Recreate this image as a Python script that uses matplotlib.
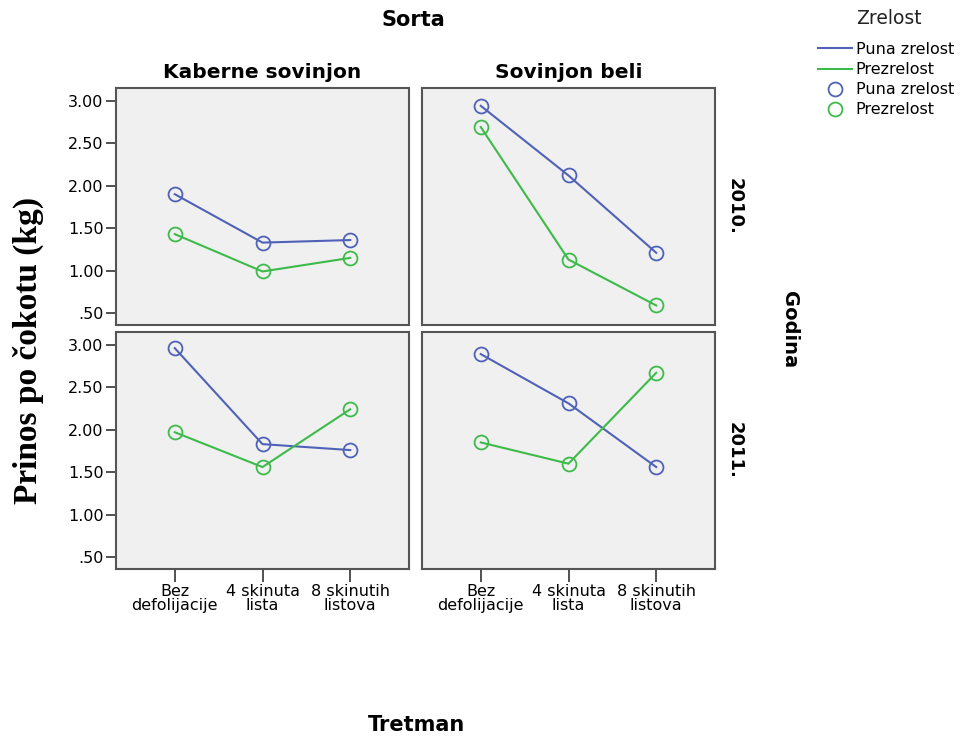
import numpy as np
import matplotlib.pyplot as plt
from matplotlib.lines import Line2D

treatments = ["Bez\ndefolijacije", "4 skinuta\nlista", "8 skinutih\nlistova"]
varieties = ["Kaberne sovinjon", "Sovinjon beli"]
years = ["2010.", "2011."]
y_ticks = [0.5, 1.0, 1.5, 2.0, 2.5, 3.0]
y_tick_labels = [".50", "1.00", "1.50", "2.00", "2.50", "3.00"]

# Puna zrelost / Prezrelost, per (year, variety)
puna = {
    ("2010.", "Kaberne sovinjon"): [1.90, 1.33, 1.36],
    ("2010.", "Sovinjon beli"): [2.94, 2.12, 1.21],
    ("2011.", "Kaberne sovinjon"): [2.96, 1.83, 1.76],
    ("2011.", "Sovinjon beli"): [2.89, 2.31, 1.56],
}
prezrelost = {
    ("2010.", "Kaberne sovinjon"): [1.43, 0.99, 1.15],
    ("2010.", "Sovinjon beli"): [2.69, 1.13, 0.59],
    ("2011.", "Kaberne sovinjon"): [1.97, 1.56, 2.24],
    ("2011.", "Sovinjon beli"): [1.85, 1.60, 2.67],
}

blue = "#4f62b8"
green = "#3dbb4a"
sans = "DejaVu Sans"

fig = plt.figure(figsize=(9.63, 7.38), dpi=100)

lefts = [116 / 963, 422 / 963]
bottoms = [1 - 325 / 738, 1 - 569 / 738]
w = 293 / 963
h = 237 / 738
x = np.arange(len(treatments))

for r, year in enumerate(years):
    for c, variety in enumerate(varieties):
        ax = fig.add_axes([lefts[c], bottoms[r], w, h])
        ax.set_facecolor("#f0f0f0")
        for s in ax.spines.values():
            s.set_color("#555555")
            s.set_linewidth(1.5)
        ax.plot(x, puna[(year, variety)], color=blue, lw=1.5, marker="o",
                ms=10, mfc="none", mec=blue, mew=1.3)
        ax.plot(x, prezrelost[(year, variety)], color=green, lw=1.5, marker="o",
                ms=10, mfc="none", mec=green, mew=1.3)
        ax.set_xlim(-0.67, 2.67)
        ax.set_ylim(0.36, 3.15)
        ax.set_yticks(y_ticks)
        if c == 0:
            ax.set_yticklabels(y_tick_labels, fontsize=11.5, family=sans)
            ax.tick_params(axis="y", length=7, width=1.2, color="#333333", pad=2)
        else:
            ax.tick_params(axis="y", left=False, labelleft=False)
        ax.set_xticks(x)
        if r == 1:
            ax.set_xticklabels(treatments, fontsize=11.5, family=sans, linespacing=0.9)
            ax.tick_params(axis="x", length=9, width=1.2, color="#333333", pad=2)
        else:
            ax.tick_params(axis="x", bottom=False, labelbottom=False)
        if r == 0:
            ax.set_title(variety, fontsize=14.5, fontweight="bold", family=sans, pad=7)
        if c == 1:
            ax.text(1.035, 0.5, year, transform=ax.transAxes, rotation=-90,
                    ha="left", va="center", fontsize=13, fontweight="bold", family=sans)

fig.text(413 / 963, 1 - 20 / 738, "Sorta", ha="center", va="center",
         fontsize=15, fontweight="bold", family=sans)
fig.text(416 / 963, 1 - 725 / 738, "Tretman", ha="center", va="center",
         fontsize=15, fontweight="bold", family=sans)
fig.text(789 / 963, 1 - 330 / 738, "Godina", ha="center", va="center", rotation=-90,
         fontsize=14, fontweight="bold", family=sans)
fig.text(28 / 963, 1 - 350 / 738, "Prinos po čokotu (kg)", ha="center", va="center",
         rotation=90, fontsize=24, fontweight="bold", family="Liberation Serif")

fig.text(889 / 963, 1 - 18 / 738, "Zrelost", ha="center", va="center",
         fontsize=13.5, family=sans, color="#222222")
handles = [
    Line2D([], [], color=blue, lw=1.5),
    Line2D([], [], color=green, lw=1.5),
    Line2D([], [], color=blue, ls="none", marker="o", ms=10, mfc="none", mew=1.3),
    Line2D([], [], color=green, ls="none", marker="o", ms=10, mfc="none", mew=1.3),
]
labels = ["Puna zrelost", "Prezrelost", "Puna zrelost", "Prezrelost"]
leg = fig.legend(handles, labels, loc="upper left",
                 bbox_to_anchor=(818 / 963, 1 - 42 / 738), frameon=False,
                 prop={"family": sans, "size": 11.5}, handlelength=2.1,
                 handletextpad=0.25, labelspacing=0.32, borderaxespad=0,
                 borderpad=0)

fig.savefig("out.png", dpi=100)
